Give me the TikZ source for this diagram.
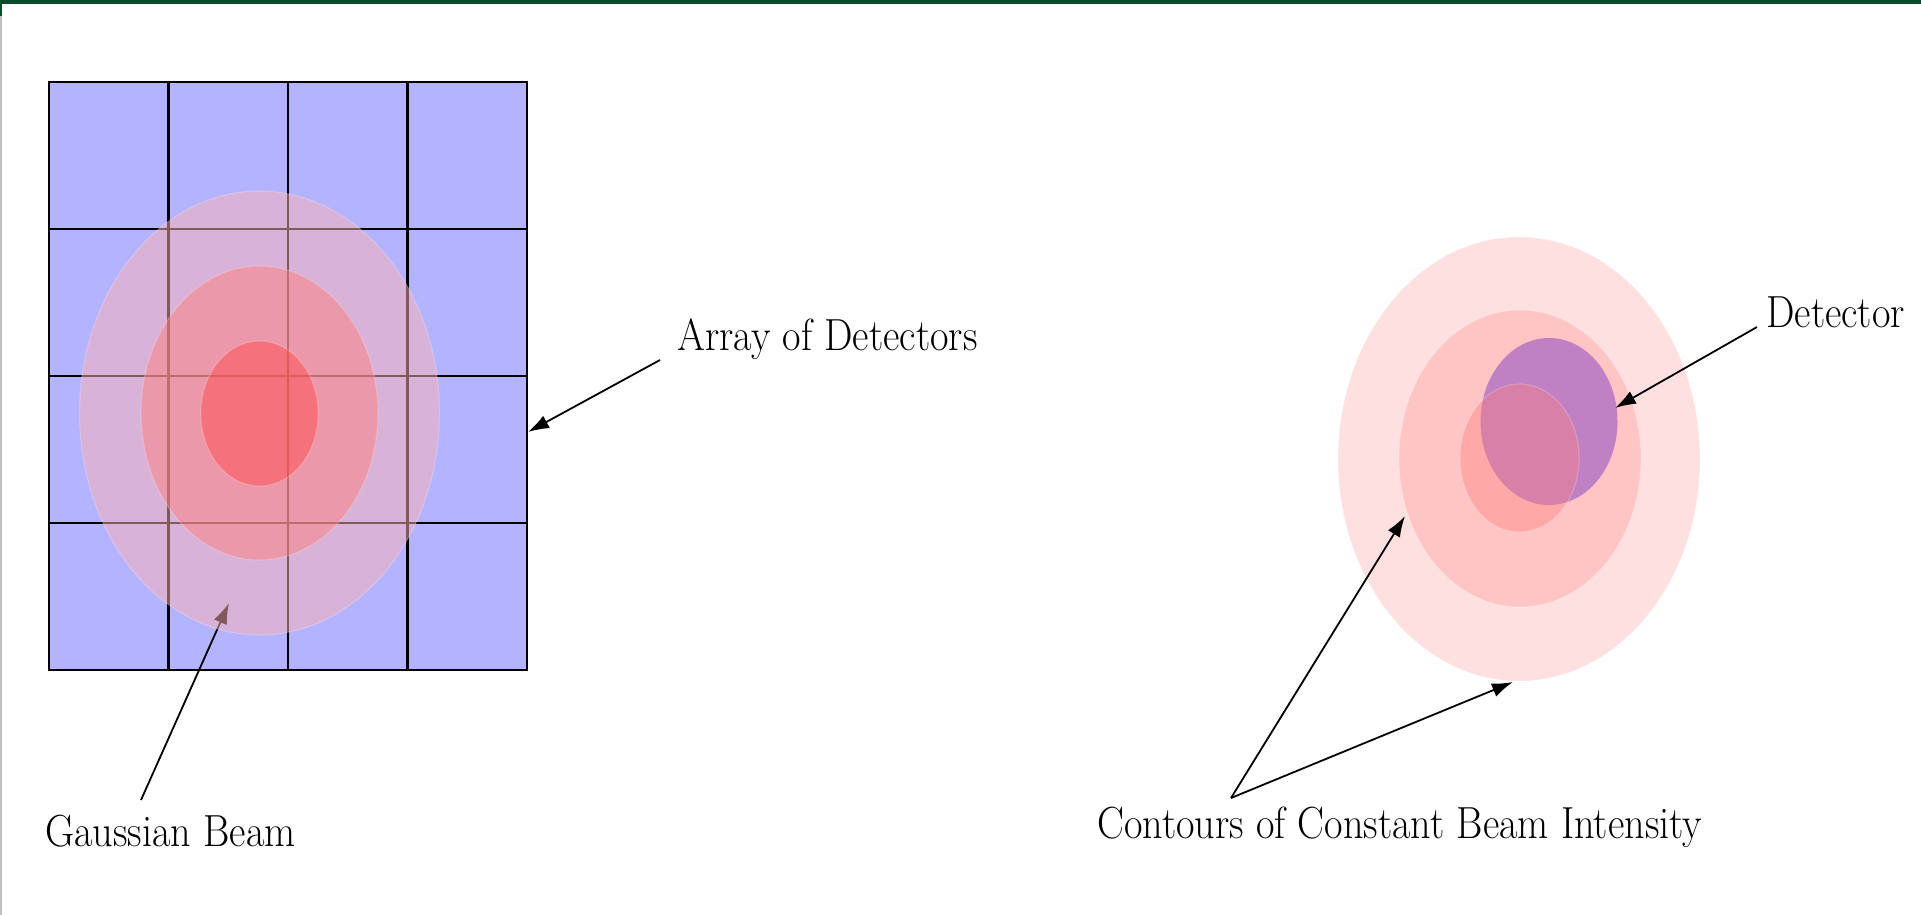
\documentclass[tikz,border=0pt]{standalone}
\usepackage{graphicx}
\usetikzlibrary{arrows.meta}
\definecolor{bargreen}{RGB}{10,76,42}
\definecolor{cellblue}{RGB}{179,179,255}
\definecolor{ringA}{RGB}{255,224,224}
\definecolor{ringB}{RGB}{255,196,196}
\definecolor{detcol}{RGB}{191,128,196}
\tikzset{
  lbl/.style={inner sep=0pt, anchor=base west, font=\fontsize{45}{54}\selectfont},
  gridline/.style={line width=2.2pt, black},
  pointer/.style={line width=1.8pt, black, -{Latex[length=21pt,width=14pt]}},
  rim/.style={draw=white, draw opacity=0.2, line width=1.2pt},
}
\newcommand{\sq}[1]{\scalebox{0.894}[1]{#1}}
\begin{document}
\begin{tikzpicture}[x=1pt,y=-1pt]
\useasboundingbox (0,0) rectangle (1921,915);
\fill[white] (0,0) rectangle (1921,915);
% top bar and left edge
\fill[bargreen] (0,0) rectangle (1921,4.5);
\fill[bargreen] (0,4.5) rectangle (1.8,16);
\fill[black!25] (0,16) rectangle (1.5,915);

% ---- left: array of detectors ----
\fill[cellblue] (49,82) rectangle (527,670);
\foreach \x in {168.5,288,407.5} \draw[gridline] (\x,82) -- (\x,670);
\foreach \y in {229,376,523} \draw[gridline] (49,\y) -- (527,\y);
\draw[gridline] (49,82) rectangle (527,670);

% labels and their anchors
\node[lbl] (arr) at (677,350) {\sq{Array of Detectors}};
\node[lbl] (gau) at (45,846) {\sq{Gaussian Beam}};
\node[lbl] (con) at (1097,838) {\sq{Contours of Constant Beam Intensity}};
\node[lbl] (det) at (1766,327) {\sq{Detector}};

\coordinate (arrT) at (660,360);
\coordinate (arrH) at (528,432);
\coordinate (gauT) at (141,800);
\coordinate (gauH) at (229,603);

% Gaussian beam arrow (under the beam)
\draw[pointer] (gauT) -- (gauH);

% beam contours over the array
\fill[red!30, opacity=0.5] (259.5,413) ellipse [x radius=180, y radius=222];
\fill[red!50, opacity=0.5] (259.5,413) ellipse [x radius=118.5, y radius=147];
\fill[red!70, opacity=0.5] (259.5,413.5) ellipse [x radius=58.7, y radius=72.5];
\draw[rim] (259.5,413) ellipse [x radius=180, y radius=222];
\draw[rim] (259.5,413) ellipse [x radius=118.5, y radius=147];
\draw[rim] (259.5,413.5) ellipse [x radius=58.7, y radius=72.5];

\draw[pointer] (arrT) -- (arrH);

% ---- right: single detector ----
\fill[ringA] (1519,459) ellipse [x radius=181, y radius=222];
\fill[ringB] (1520,458.5) ellipse [x radius=121, y radius=148.5];
\fill[detcol] (1549,421.5) ellipse [x radius=68.5, y radius=83.5];
\fill[red!50, opacity=0.4] (1519.5,458) ellipse [x radius=59.6, y radius=74];
\draw[rim] (1519,459) ellipse [x radius=181, y radius=222];
\draw[rim] (1520,458.5) ellipse [x radius=121, y radius=148.5];
\draw[rim] (1519.5,458) ellipse [x radius=59.6, y radius=74];

\coordinate (detT) at (1757,327);
\coordinate (detH) at (1615,408);
\coordinate (conT) at (1231,798);
\coordinate (conH1) at (1405,516);
\coordinate (conH2) at (1513,682);

\draw[pointer] (detT) -- (detH);
\draw[pointer] (conT) -- (conH1);
\draw[pointer] (conT) -- (conH2);
\end{tikzpicture}
\end{document}
